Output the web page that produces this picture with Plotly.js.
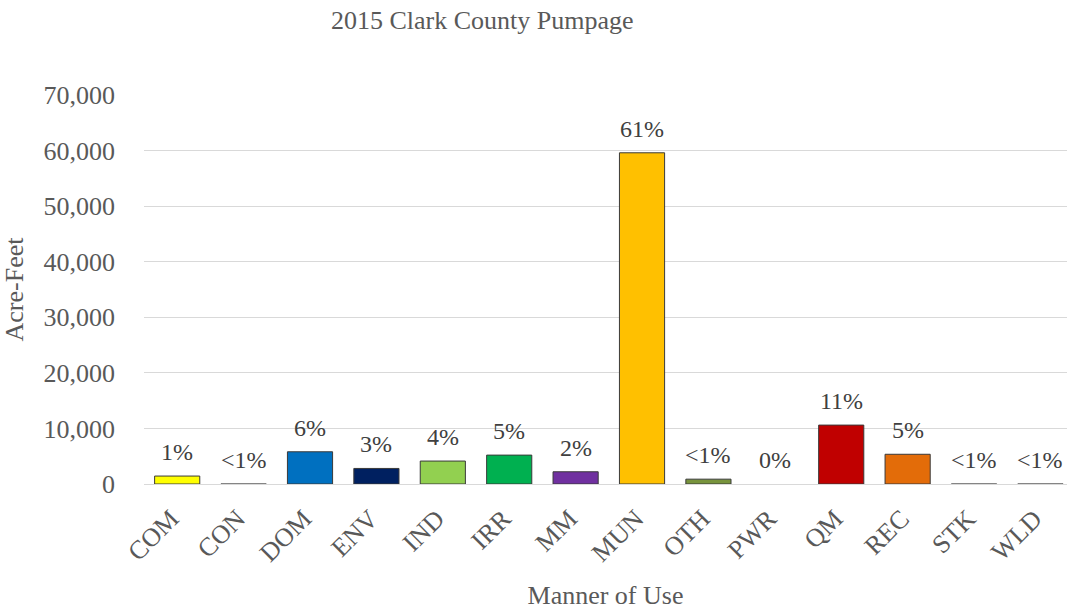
<!DOCTYPE html>
<html>
<head>
<meta charset="utf-8">
<script src="https://cdn.plot.ly/plotly-3.0.1.min.js"></script>
<style>html,body{margin:0;padding:0;background:#fff;}#chart{width:1067px;height:610px;}</style>
</head>
<body>
<div id="chart"></div>
<script>
const categories = ["COM","CON","DOM","ENV","IND","IRR","MM","MUN","OTH","PWR","QM","REC","STK","WLD"];
const acreFeet = [1430, 60, 5800, 2800, 4130, 5200, 2200, 59600, 870, 0, 10600, 5350, 60, 60];
const pctLabels = ["1%","<1%","6%","3%","4%","5%","2%","61%","<1%","0%","11%","5%","<1%","<1%"];
const barColors = ["#FFFF00","#A6A6A6","#0070C0","#002060","#92D050","#00B050","#7030A0","#FFC000","#77933C","#FFFFFF","#C00000","#E36C09","#A6A6A6","#A6A6A6"];
const lineWidths = [1,0.5,1,1,1,1,1,1,1,0,1,1,0.5,0.5];

const FAM = "'Liberation Serif', 'Times New Roman', serif";

const trace = {
  type: "bar",
  x: categories,
  y: acreFeet,
  marker: {color: barColors, line: {color: "#3a3a3a", width: lineWidths}},
  hoverinfo: "x+y"
};

const annotations = categories.map((c, i) => ({
  x: c, y: acreFeet[i], xref: "x", yref: "y",
  text: pctLabels[i], showarrow: false,
  yanchor: "bottom", yshift: 9,
  font: {family: FAM, size: 24, color: "#404040"}
}));

const layout = {
  width: 1067, height: 610,
  margin: {l: 144, r: 0, t: 95, b: 125.5},
  paper_bgcolor: "#fff", plot_bgcolor: "#fff",
  showlegend: false,
  bargap: 0.32,
  font: {family: FAM, color: "#595959"},
  title: {text: "2015 Clark County Pumpage", font: {family: FAM, size: 26, color: "#595959"},
          x: 0.452, xref: "container", xanchor: "center", y: 0.967, yref: "container", yanchor: "middle"},
  xaxis: {
    type: "category", range: [-0.5, 13.4],
    tickangle: -45, tickfont: {family: FAM, size: 26, color: "#595959"},
    ticklabelstandoff: 8, ticklabelshift: -6,
    showline: true, linecolor: "#d9d9d9", linewidth: 1,
    ticks: "", showgrid: false,
    title: {text: "Manner of Use", font: {family: FAM, size: 26, color: "#595959"}, standoff: 21}
  },
  yaxis: {
    range: [0, 70000], dtick: 10000, tickformat: ",d",
    tickfont: {family: FAM, size: 26, color: "#595959"},
    gridcolor: "#d9d9d9", gridwidth: 1, zeroline: false,
    showline: false, ticks: "", ticklabelstandoff: 28,
    title: {text: "Acre-Feet", font: {family: FAM, size: 26, color: "#595959"}, standoff: 14}
  },
  annotations: annotations
};

Plotly.newPlot("chart", [trace], layout, {displayModeBar: false, staticPlot: true});
</script>
</body>
</html>
